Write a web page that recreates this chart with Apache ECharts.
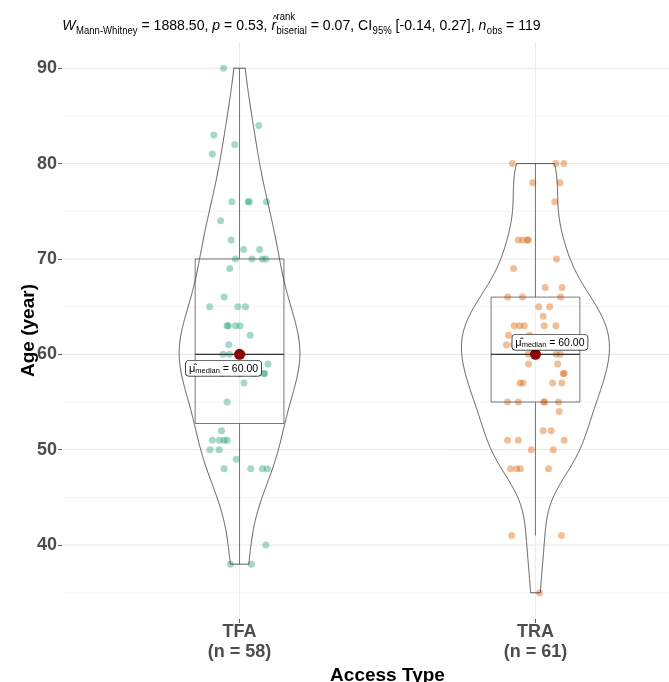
<!DOCTYPE html>
<html><head><meta charset="utf-8">
<script src="https://cdn.jsdelivr.net/npm/echarts@6/dist/echarts.min.js"></script>
<style>html,body{margin:0;padding:0;background:#fff}#c{width:669px;height:682px}</style>
</head><body><div id="c"></div>
<script>
// ---------------- data ----------------
const categories = ['TFA', 'TRA'];
const tfaAge = [90,84,83,82,81,76,76,76,76,74,72,71,71,70,70,70,70,69,66,65,65,65,63,63,63,63,62,61,60,60,
  59,58,58,57,55,52,51,51,51,51,50,50,49,48,48,48,48,40,38,38, 60,60,59,59,59,58,58,58];
// horizontal jitter of each point (in category units)
const tfaJitter = [-0.054,0.065,-0.087,-0.016,-0.092,-0.026,0.029,0.033,0.091,-0.064,-0.028,0.014,0.068,-0.014,0.042,0.077,0.089,-0.033,-0.052,-0.101,-0.006,0.020,-0.042,-0.038,-0.014,0.002,0.036,-0.036,-0.056,-0.034,
  0.096,0.082,0.085,0.015,-0.042,-0.061,-0.092,-0.068,-0.052,-0.042,-0.100,-0.069,-0.011,-0.052,0.038,0.077,0.094,0.089,-0.031,0.040, -0.005,0.010,-0.080,-0.020,0.030,-0.060,0.000,0.050];
const traAge = [80,80,80,78,78,76,72,72,72,72,70,69,67,67,66,66,66,65,65,64,63,63,63,63,63,62,62,61,61,61,
  60,60,60,59,59,58,58,57,57,57,57,55,55,55,55,55,54,52,52,51,51,51,50,50,48,48,48,48,41,41,35];
const traJitter = [-0.078,0.069,0.096,-0.009,0.083,0.065,-0.058,-0.043,-0.027,-0.024,0.071,-0.074,0.033,0.090,-0.094,-0.044,0.085,0.011,0.048,0.026,-0.072,-0.054,-0.038,0.030,0.069,-0.091,-0.020,-0.098,-0.074,0.030,
  0.070,0.084,-0.024,-0.023,0.075,0.097,0.094,-0.052,-0.042,0.058,0.089,-0.094,-0.058,0.028,0.031,0.078,0.080,0.026,0.053,-0.094,-0.058,0.097,-0.014,0.060,-0.084,-0.064,-0.051,0.044,-0.080,0.088,0.014];
const yMajorTicks = [40, 50, 60, 70, 80, 90];
const yMinorTicks = [35, 45, 55, 65, 75, 85];
const statW = '1888.50', statP = '0.53', statR = '0.07', statCI = ['-0.14', '0.27'];

// ---------------- helpers ----------------
const groups = [tfaAge, traAge];
const jitters = [tfaJitter, traJitter];
const pointColors = ['#1B9E77', '#D95F02'];
const FONT = '"Liberation Sans", Arial, sans-serif';

function q7(s, p) { const h = (s.length - 1) * p, lo = Math.floor(h); const hi = Math.min(lo + 1, s.length - 1); return s[lo] + (h - lo) * (s[hi] - s[lo]); }
function boxStats(arr) {
  const s = arr.slice().sort((a, b) => a - b);
  const q1 = q7(s, 0.25), med = q7(s, 0.5), q3 = q7(s, 0.75), iqr = q3 - q1;
  const lo = Math.min(...s.filter(v => v >= q1 - 1.5 * iqr));
  const hi = Math.max(...s.filter(v => v <= q3 + 1.5 * iqr));
  return [lo, q1, med, q3, hi];
}
function kde(arr) {
  const n = arr.length, s = arr.slice().sort((a, b) => a - b);
  const mean = s.reduce((a, b) => a + b, 0) / n;
  const sd = Math.sqrt(s.reduce((a, b) => a + (b - mean) * (b - mean), 0) / (n - 1));
  const iqr = q7(s, 0.75) - q7(s, 0.25);
  const bw = 0.9 * Math.min(sd, iqr / 1.34) * Math.pow(n, -0.2);
  const out = [], lo = s[0], hi = s[n - 1], N = 512;
  for (let i = 0; i < N; i++) {
    const y = lo + (hi - lo) * i / (N - 1);
    let d = 0;
    for (const x of s) { const z = (y - x) / bw; d += Math.exp(-0.5 * z * z); }
    out.push([y, d / (n * bw * Math.sqrt(2 * Math.PI))]);
  }
  return out;
}
const boxes = groups.map(boxStats);
const dens = groups.map(kde);
const dmax = Math.max(...dens.map(d => Math.max(...d.map(p => p[1]))));
const violins = dens.map((d, gi) => {
  const c = gi + 1;
  const left = d.map(p => [c - 0.25 * p[1] / dmax, p[0]]);
  const right = d.slice().reverse().map(p => [c + 0.25 * p[1] / dmax, p[0]]);
  return left.concat(right);
});

// ---------------- title (rich, laid out by measurement) ----------------
const ctx = document.createElement('canvas').getContext('2d');
function mw(t, size, it) { ctx.font = (it ? 'italic ' : '') + size + 'px ' + FONT; return ctx.measureText(t).width; }
const M = 15.5, S = 10.5, BASE = 31;
const nObs = tfaAge.length + traAge.length;
const pieces = [
  { t: 'W', it: 1 }, { t: 'Mann-Whitney', sub: 1 }, { t: ' = ' + statW + ', ' },
  { t: 'p', it: 1 }, { t: ' = ' + statP + ', ' },
  { t: 'r', it: 1, hat: 1 }, { stack: ['rank', 'biserial'] },
  { t: ' = ' + statR + ', CI' }, { t: '95%', sub: 1 }, { t: ' [' + statCI[0] + ', ' + statCI[1] + '], ' },
  { t: 'n', it: 1 }, { t: 'obs', sub: 1 }, { t: ' = ' + nObs }
];
const tChildren = [];
let cx = 0;
function addText(t, x, base, size, it) {
  tChildren.push({ type: 'text', x: x, y: base - 0.34 * size,
    style: { text: t, font: (it ? 'italic ' : '') + size + 'px ' + FONT, fill: '#000', textVerticalAlign: 'middle', verticalAlign: 'middle', textAlign: 'left', align: 'left' } });
}
for (const p of pieces) {
  if (p.stack) {
    addText(p.stack[0], cx + 0.5, BASE - 10, S, 0);
    addText(p.stack[1], cx + 0.5, BASE + 3.5, S, 0);
    cx += Math.max(mw(p.stack[0], S), mw(p.stack[1], S)) + 0.5;
  } else if (p.sub) {
    addText(p.t, cx + 0.5, BASE + 3.5, S, 0);
    cx += mw(p.t, S) + 0.5;
  } else {
    addText(p.t, cx, BASE, M, p.it);
    if (p.hat) addText('^', cx + 1.5, BASE - 7.5, 11, 0);
    cx += mw(p.t, M, p.it);
  }
}
const titleScale = 478.4 / cx;

// ---------------- chart ----------------
const chart = echarts.init(document.getElementById('c'), null, { renderer: 'canvas' });
const gridData = yMajorTicks.map(v => [v, 0]).concat(yMinorTicks.map(v => [v, 1])).concat([[1, 2], [2, 2]]);
const YMIN = 32.25, YMAX = 92.75;

const pointSeries = groups.map((g, gi) => ({
  type: 'scatter', z: 2, symbolSize: 7,
  itemStyle: { color: pointColors[gi], opacity: 0.4 },
  data: g.map((v, i) => [gi + 1 + jitters[gi][i], v]),
  silent: true
}));

const medLabelOffsets = [[-16, 14], [14.5, -12]];
function medLabel(v) { return '{mu|μ̂}{sub|median}{eq| = ' + v.toFixed(2) + '}'; }

chart.setOption({
  animation: false,
  textStyle: { fontFamily: FONT },
  grid: { left: 62, top: 42, width: 651, height: 577, containLabel: false, outerBoundsMode: 'none' },
  xAxis: {
    type: 'value', min: 0.4, max: 2.6,
    axisLine: { show: false }, splitLine: { show: false },
    axisTick: { show: true, length: 4, lineStyle: { color: '#333', width: 0.8 }, customValues: [1, 2] },
    axisLabel: { customValues: [1, 2], margin: 3, fontSize: 18, fontWeight: 'bold', color: '#4D4D4D', lineHeight: 20,
      formatter: v => categories[Math.round(v) - 1] + '\n(n = ' + groups[Math.round(v) - 1].length + ')' },
    name: 'Access Type', nameLocation: 'middle', nameGap: 47, nameMoveOverlap: false,
    nameTextStyle: { fontSize: 19, fontWeight: 'bold', color: '#000' }
  },
  yAxis: {
    type: 'value', min: YMIN, max: YMAX,
    axisLine: { show: false }, splitLine: { show: false },
    axisTick: { show: true, length: 4, lineStyle: { color: '#333', width: 0.8 }, customValues: yMajorTicks },
    axisLabel: { customValues: yMajorTicks, margin: 5, fontSize: 18, fontWeight: 'bold', color: '#4D4D4D' },
    name: 'Age (year)', nameLocation: 'middle', nameGap: 24, nameRotate: 90, nameMoveOverlap: false,
    nameTextStyle: { fontSize: 19, fontWeight: 'bold', color: '#000' }
  },
  graphic: [{ type: 'group', x: 62.3, y: 0, scaleX: titleScale, children: tChildren }],
  series: [
    {
      type: 'custom', z: 0, silent: true, data: gridData, clip: false,
      renderItem: (params, api) => {
        const cs = params.coordSys, v = api.value(0), k = api.value(1);
        if (k === 2) {
          const x = api.coord([v, YMIN])[0];
          return { type: 'line', shape: { x1: x, y1: cs.y, x2: x, y2: cs.y + cs.height }, style: { stroke: '#EBEBEB', lineWidth: 1 } };
        }
        const y = api.coord([1, v])[1];
        return { type: 'line', shape: { x1: cs.x, y1: y, x2: cs.x + cs.width, y2: y },
          style: { stroke: k === 0 ? '#E6E6E6' : '#F2F2F2', lineWidth: k === 0 ? 1 : 0.8 } };
      }
    },
    ...pointSeries,
    {
      type: 'custom', z: 3, silent: true, data: [[1, 60, 0], [2, 60, 1]],
      renderItem: (params, api) => {
        const gi = api.value(2), b = boxes[gi], c = gi + 1;
        const p1 = api.coord([c - 0.15, b[3]]), p2 = api.coord([c + 0.15, b[1]]);
        const ml = api.coord([c - 0.15, b[2]]), mr = api.coord([c + 0.15, b[2]]);
        const wt = api.coord([c, b[4]]), wq3 = api.coord([c, b[3]]), wq1 = api.coord([c, b[1]]), wb = api.coord([c, b[0]]);
        const st = { stroke: '#555', lineWidth: 0.8, fill: null };
        return { type: 'group', children: [
          { type: 'line', shape: { x1: wt[0], y1: wt[1], x2: wq3[0], y2: wq3[1] }, style: st },
          { type: 'line', shape: { x1: wq1[0], y1: wq1[1], x2: wb[0], y2: wb[1] }, style: st },
          { type: 'rect', shape: { x: p1[0], y: p1[1], width: p2[0] - p1[0], height: p2[1] - p1[1] }, style: { stroke: '#555', lineWidth: 0.8, fill: 'rgba(255,255,255,0)' } },
          { type: 'line', shape: { x1: ml[0], y1: ml[1], x2: mr[0], y2: mr[1] }, style: { stroke: '#333', lineWidth: 1.1 } }
        ] };
      }
    },
    {
      type: 'custom', z: 4, silent: true, data: [[1, 60, 0], [2, 60, 1]],
      renderItem: (params, api) => {
        const gi = api.value(2);
        return { type: 'polygon', shape: { points: violins[gi].map(p => api.coord(p)) },
          style: { fill: 'rgba(255,255,255,0)', stroke: '#333', lineWidth: 0.8 } };
      }
    },
    {
      type: 'scatter', z: 6, symbolSize: 11, silent: true,
      itemStyle: { color: '#8B0000', opacity: 1 },
      data: boxes.map((b, gi) => ({ value: [gi + 1, b[2]],
        label: { show: true, position: 'inside', offset: medLabelOffsets[gi], formatter: medLabel(b[2]),
          backgroundColor: '#fff', borderColor: '#000', borderWidth: 0.7, borderRadius: 3, padding: [2, 3, 1, 3],
          rich: {
            mu: { fontSize: 11, color: '#000', fontFamily: FONT },
            sub: { fontSize: 7.5, color: '#000', fontFamily: FONT, verticalAlign: 'bottom', padding: [4, 0, 0, 0] },
            eq: { fontSize: 10.5, color: '#000', fontFamily: FONT }
          } } }))
    }
  ]
});
</script>
</body></html>
